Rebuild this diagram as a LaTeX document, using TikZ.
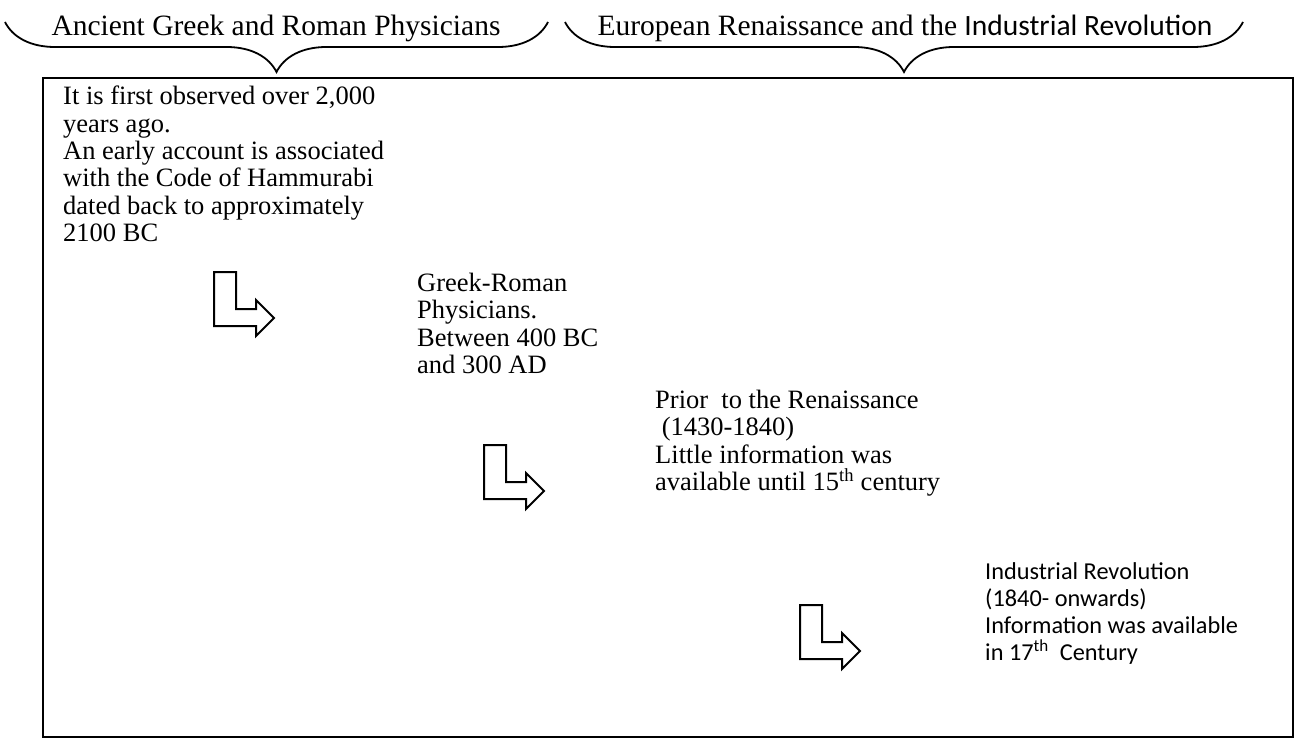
\documentclass[tikz,border=0pt]{standalone}
\usepackage{fontspec}
\setmainfont{Liberation Serif}
\newfontfamily\calib{Carlito}
\usetikzlibrary{decorations.pathreplacing}
\begin{document}
\begin{tikzpicture}[x=1pt,y=-1pt,
  bodytext/.style={anchor=north west, align=left, inner sep=0pt, font=\fontsize{26.5}{27.3}\selectfont},
  calibtext/.style={anchor=north west, align=left, inner sep=0pt, font=\calib\fontsize{24.3}{27.3}\selectfont},
  headtext/.style={anchor=base, inner sep=0pt, font=\fontsize{29.5}{31}\selectfont},
  bracket/.style={decorate, decoration={brace, amplitude=50pt, mirror}, line width=1.8pt},
  bentarrow/.style={draw, line width=2pt, line join=miter},
  frame/.style={draw, line width=1.8pt},
  bent/.pic={\draw[bentarrow] (0,0) -- (22,0) -- (22,37) -- (42,37) -- (42,28) -- (60,46) -- (42,64) -- (42,54) -- (0,54) -- cycle;}]
\useasboundingbox (0,0) rectangle (1297,743);
% braces
\coordinate (b1s) at (5,22);
\coordinate (b1e) at (548,22);
\coordinate (b2s) at (565,22);
\coordinate (b2e) at (1243,22);
\draw[bracket] (b1s) -- (b1e);
\draw[bracket] (b2s) -- (b2e);
\node[headtext] (h1) at (276,36) {Ancient Greek and Roman Physicians};
\node[headtext] (h2) at (905,36) {European Renaissance and the {\calib Industrial Revolution}};
% frame
\node[frame, inner sep=0pt, minimum width=1250pt, minimum height=659pt, anchor=north west] (box) at (42,77) {};
% texts
\node[bodytext] (t1) at (63,86) {It is first observed over 2,000\\years ago.\\An early account is associated\\with the Code of Hammurabi\\dated back to approximately\\2100 BC};
\node[bodytext] (t2) at (417,273) {Greek-Roman\\Physicians.\\Between 400 BC\\and 300 AD};
\node[bodytext] (t3) at (655,390) {Prior\ \ to the Renaissance\\\hspace{0.25em}(1430-1840)\\Little information was\\available until 15\textsuperscript{th} century};
\node[calibtext] (t4) at (985,562) {Industrial Revolution\\(1840- onwards)\\Information was available\\in 17\textsuperscript{th}\ \ Century};
% bent arrows
\pic at (214,272) {bent};
\pic at (484,445) {bent};
\pic at (800,605) {bent};
\end{tikzpicture}
\end{document}
